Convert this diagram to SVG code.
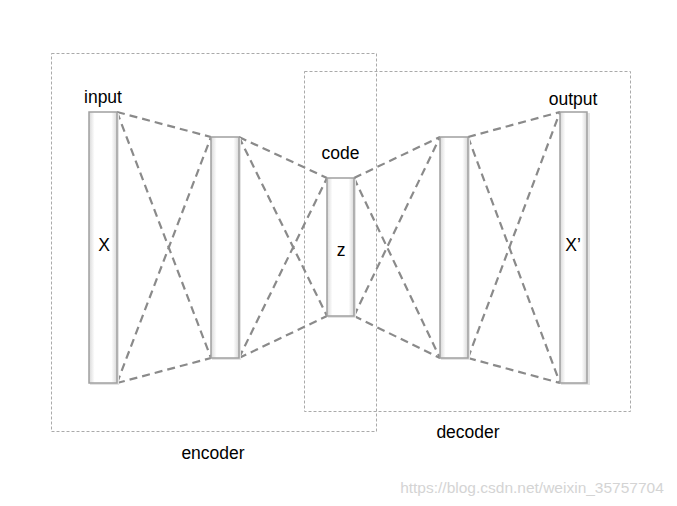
<svg xmlns="http://www.w3.org/2000/svg" width="677" height="506" viewBox="0 0 677 506">
<defs>
<linearGradient id="barg" x1="0" y1="0" x2="1" y2="0">
<stop offset="0" stop-color="#d8d8d8"/>
<stop offset="0.2" stop-color="#ffffff"/>
<stop offset="0.8" stop-color="#ffffff"/>
<stop offset="1" stop-color="#d8d8d8"/>
</linearGradient>
</defs>
<style>
.box{fill:none;stroke:#aaaaaa;stroke-width:1;stroke-dasharray:3,2}
.bar{fill:url(#barg);stroke:#a0a0a0;stroke-width:1.5}
.shadow{fill:#e4e4e4}
.conn{fill:none;stroke:#8a8a8a;stroke-width:2.2;stroke-dasharray:8,5}
.lbl{font-family:"Liberation Sans",Arial,sans-serif;font-size:17.5px;fill:#000;text-anchor:middle}
.wm{font-family:"Liberation Sans",Arial,sans-serif;font-size:15.5px;fill:#d4d4d4;text-anchor:middle}
</style>
<rect width="677" height="506" fill="#ffffff"/>
<g id="encoder">
<rect class="box" x="51.5" y="53.5" width="325" height="378"/>
<text class="lbl" x="213" y="459">encoder</text>
</g>
<g id="decoder">
<rect class="box" x="304.5" y="71.5" width="326" height="340"/>
<text class="lbl" x="468" y="438">decoder</text>
</g>
<g id="connectors">
<line class="conn" x1="117" y1="112" x2="211" y2="137"/>
<line class="conn" x1="117" y1="112" x2="211" y2="358"/>
<line class="conn" x1="117" y1="383" x2="211" y2="137"/>
<line class="conn" x1="117" y1="383" x2="211" y2="358"/>
<line class="conn" x1="239" y1="137" x2="327" y2="178"/>
<line class="conn" x1="239" y1="137" x2="327" y2="316"/>
<line class="conn" x1="239" y1="358" x2="327" y2="178"/>
<line class="conn" x1="239" y1="358" x2="327" y2="316"/>
<line class="conn" x1="354" y1="178" x2="440" y2="137"/>
<line class="conn" x1="354" y1="178" x2="440" y2="358"/>
<line class="conn" x1="354" y1="316" x2="440" y2="137"/>
<line class="conn" x1="354" y1="316" x2="440" y2="358"/>
<line class="conn" x1="468" y1="137" x2="560" y2="112"/>
<line class="conn" x1="468" y1="137" x2="560" y2="383"/>
<line class="conn" x1="468" y1="358" x2="560" y2="112"/>
<line class="conn" x1="468" y1="358" x2="560" y2="383"/>
</g>
<g id="input">
<rect class="shadow" x="90" y="113" width="29" height="272"/>
<rect class="bar" x="89" y="112" width="28" height="271"/>
<text class="lbl" x="103" y="103">input</text>
<text class="lbl" x="104" y="251">X</text>
</g>
<g id="hidden1">
<rect class="shadow" x="212" y="138" width="29" height="222"/>
<rect class="bar" x="211" y="137" width="28" height="221"/>
</g>
<g id="code">
<rect class="shadow" x="328" y="179" width="28" height="139"/>
<rect class="bar" x="327" y="178" width="27" height="138"/>
<text class="lbl" x="340.5" y="159">code</text>
<text class="lbl" x="341" y="256">z</text>
</g>
<g id="hidden2">
<rect class="shadow" x="441" y="138" width="29" height="222"/>
<rect class="bar" x="440" y="137" width="28" height="221"/>
</g>
<g id="output">
<rect class="shadow" x="561" y="113" width="29" height="272"/>
<rect class="bar" x="560" y="112" width="27" height="271"/>
<text class="lbl" x="573" y="105">output</text>
<text class="lbl" x="573" y="251">X’</text>
</g>
<text class="wm" x="532" y="493">https://blog.csdn.net/weixin_35757704</text>
</svg>
